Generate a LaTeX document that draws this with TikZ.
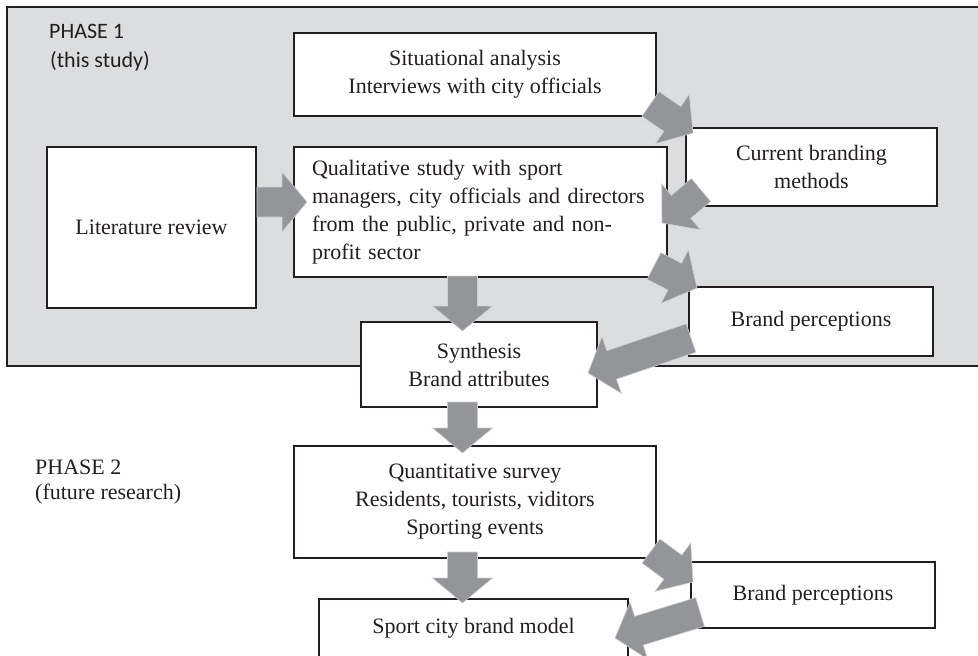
\documentclass[tikz,border=0pt]{standalone}
\usepackage{fontspec}
\setmainfont{Liberation Serif}
\newfontfamily\calibrifont{Carlito}
\usetikzlibrary{calc}
\definecolor{bggrey}{RGB}{220,221,222}
\definecolor{arrgrey}{RGB}{147,149,152}
\definecolor{ink}{RGB}{35,31,32}
\newcommand\blockarr[2]{%
  \path ($(#2)!25pt!(#1)$) coordinate (hb);
  \path ($(#1)!15pt!90:(#2)$) coordinate (t1)
        ($(#1)!15pt!-90:(#2)$) coordinate (t2)
        ($(hb)!15pt!90:(#2)$) coordinate (h1)
        ($(hb)!15pt!-90:(#2)$) coordinate (h2)
        ($(hb)!30pt!90:(#2)$) coordinate (b1)
        ($(hb)!30pt!-90:(#2)$) coordinate (b2);
  \filldraw[blockarrow] (t1) -- (h1) -- (b1) -- (#2) -- (b2) -- (h2) -- (t2) -- cycle;}
\begin{document}
\begin{tikzpicture}[x=1pt,y=-1pt,
  box/.style={draw=ink, line width=1.5pt, fill=white, inner sep=0pt, align=center,
    font=\fontsize{22}{28}\selectfont, text=ink},
  plain/.style={inner sep=0pt, font=\fontsize{22}{28}\selectfont, text=ink},
  blockarrow/.style={fill=arrgrey, draw=white!55!arrgrey, line width=0.6pt}]
\useasboundingbox (0,0) rectangle (978,656);
\clip (0,0) rectangle (978,656);
% phase 1 background
\fill[bggrey] (7,7) rectangle (995,366);
\draw[ink, line width=1.7pt] (995,7) -- (7,7) -- (7,366) -- (995,366);
% labels
\node[plain, anchor=base west, font=\calibrifont\fontsize{22}{28}\selectfont] (ph1) at (49,38) {PHASE 1};
\node[plain, anchor=base west, font=\calibrifont\fontsize{22}{28}\selectfont] (ph1b) at (50,67) {(this study)};
\node[plain, anchor=base west] (ph2) at (35,474) {PHASE 2};
\node[plain, anchor=base west] (ph2b) at (35,499) {(future research)};
% boxes
\node[box, minimum width=362pt, minimum height=83pt] (sit) at (475,74.5) {Situational analysis\\Interviews with city officials};
\node[box, minimum width=209pt, minimum height=161pt] (lit) at (151.5,227.5) {Literature review};
\node[box, minimum width=373pt, minimum height=130pt, text width=337pt, align=left] (qual) at (480.5,212)
  {Qualitative study with sport\\managers, city officials and directors\\from the public, private and non-\\profit sector};
\node[box, minimum width=251pt, minimum height=78pt] (cur) at (811.5,167) {Current branding\\methods};
\node[box, minimum width=244pt, minimum height=69pt] (bp1) at (811,321.5) {Brand perceptions};
\node[box, minimum width=236pt, minimum height=85pt] (syn) at (479,364.5) {Synthesis\\Brand attributes};
\node[box, minimum width=362pt, minimum height=112pt] (quant) at (475,502) {Quantitative survey\\Residents, tourists, viditors\\Sporting events};
\node[box, minimum width=244pt, minimum height=66pt] (bp2) at (813,595) {Brand perceptions};
\node[box, minimum width=309pt, minimum height=80pt] (sport) at (473.5,639) {};
\node[plain, anchor=base] (sporttxt) at (473.5,633) {Sport city brand model};
% arrow end points
\coordinate (a1s) at (257,202);   \coordinate (a1e) at (307,202);
\coordinate (a2s) at (462.5,276); \coordinate (a2e) at (462.5,331);
\coordinate (a3s) at (462.5,402); \coordinate (a3e) at (462.5,453);
\coordinate (a4s) at (462.5,552); \coordinate (a4e) at (462.5,603);
\coordinate (a5s) at (650.5,104); \coordinate (a5e) at (693,133);
\coordinate (a6s) at (701,190);   \coordinate (a6e) at (662,223);
\coordinate (a7s) at (654,266);   \coordinate (a7e) at (697,288);
\coordinate (a8s) at (691,338);   \coordinate (a8e) at (588,373);
\coordinate (a9s) at (651,551);   \coordinate (a9e) at (693,582);
\coordinate (a10s) at (700,612);  \coordinate (a10e) at (615,638);
\blockarr{a1s}{a1e}
\blockarr{a2s}{a2e}
\blockarr{a3s}{a3e}
\blockarr{a4s}{a4e}
\blockarr{a5s}{a5e}
\blockarr{a6s}{a6e}
\blockarr{a7s}{a7e}
\blockarr{a8s}{a8e}
\blockarr{a9s}{a9e}
\blockarr{a10s}{a10e}
\end{tikzpicture}
\end{document}
